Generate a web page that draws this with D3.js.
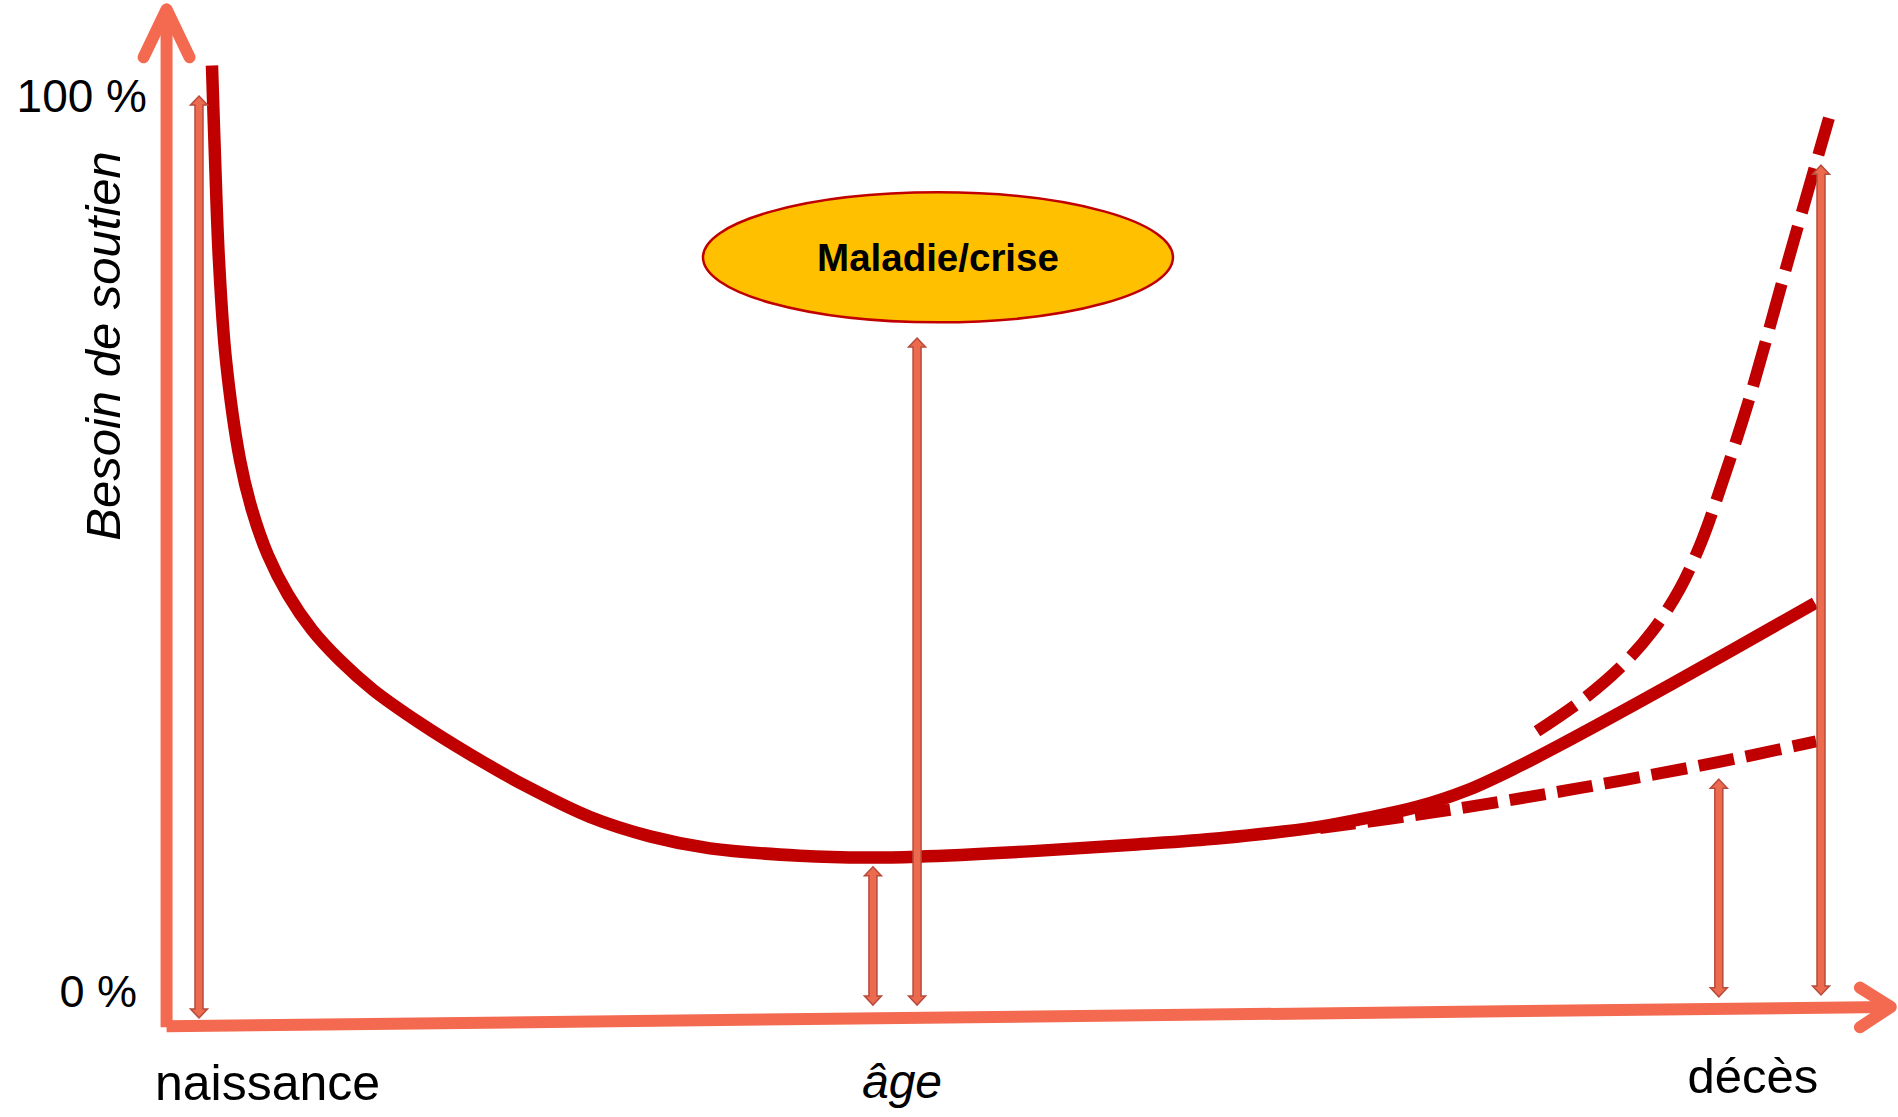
<!DOCTYPE html>
<html>
<head>
<meta charset="utf-8">
<script src="https://cdn.jsdelivr.net/npm/d3@7"></script>
<style>
  html, body { margin: 0; padding: 0; background: #fff; }
  svg { display: block; font-family: Arial, "Liberation Sans", sans-serif; }
</style>
</head>
<body>
<div id="container"></div>
<script>
// age (0 = naissance, 100 = décès) and besoin de soutien in %
const mainAge  = [0.8, 0.99, 1.23, 1.66, 2.53, 3.27, 4.25, 5.49, 6.97, 8.69, 10.73, 13.62, 16.71, 20.22, 24.11, 27.81, 31.5, 37.05, 41.18, 44.27, 51.42, 57.58, 62.95, 68.93, 72.01, 75.09, 78.18, 81.26, 83.91, 90.88, 99.63];
const mainNeed = [103.3, 93.1, 82.2, 71.4, 60.5, 55.1, 50.2, 45.9, 42.1, 38.8, 35.6, 32.0, 28.6, 25.1, 21.8, 19.7, 18.4, 17.6, 17.4, 17.5, 18.1, 18.8, 19.5, 20.7, 21.7, 22.9, 24.7, 27.2, 29.6, 36.3, 45.0];

const highAge  = [82.49, 85.14, 87.61, 89.58, 91.31, 92.66, 93.77, 95.62, 98.03, 100.49];
const highNeed = [31.1, 34.3, 38.0, 41.9, 46.6, 51.8, 57.3, 67.4, 82.5, 97.6];

const lowAge  = [69.1, 76.1, 85.0, 93.8, 99.7];
const lowNeed = [20.6, 22.3, 24.9, 27.8, 30.0];

// double arrows: age, from, to
const arrowAge  = [0, 41.55, 44.27, 93.7, 100];
const arrowFrom = [0, 1.4, 1.4, 2.3, 2.5];
const arrowTo   = [100, 16.4, 73.75, 25.9, 92.5];

const yTickLabels = ["0 %", "100 %"];
const xLabels = ["naissance", "âge", "décès"];
const yTitle = "Besoin de soutien";
const bubbleText = "Maladie/crise";
const bubbleAge = 45.56, bubbleNeed = 82.5;

const width = 1898, height = 1117;
const x = d3.scaleLinear().domain([0, 100]).range([199, 1821]);
const y = d3.scaleLinear().domain([0, 100]).range([1018, 96]);

const axisColor = "#F36A50";
const curveColor = "#C00000";

const svg = d3.select("#container").append("svg")
  .attr("width", width).attr("height", height)
  .attr("viewBox", [0, 0, width, height]);

// axes
const axisG = svg.append("g")
  .attr("stroke", axisColor).attr("stroke-width", 12).attr("fill", "none");

axisG.append("line")
  .attr("x1", x(-2)).attr("y1", y(-1))
  .attr("x2", x(-2)).attr("y2", y(109));
axisG.append("path")
  .attr("stroke-linecap", "round").attr("stroke-linejoin", "round")
  .attr("d", `M${x(-2) - 23},${y(104.2)}L${x(-2)},${y(109.4)}L${x(-2) + 23},${y(104.2)}`);

axisG.append("line")
  .attr("x1", x(-2)).attr("y1", y(-0.9))
  .attr("x2", x(104.2)).attr("y2", y(1.2));
axisG.append("path")
  .attr("stroke-linecap", "round").attr("stroke-linejoin", "round")
  .attr("d", `M${x(102.4)},${y(3.3)}L${x(104.3)},${y(1.2)}L${x(102.4)},${y(-1)}`);

// line generator
const line = d3.line()
  .x(d => x(d[0])).y(d => y(d[1]))
  .curve(d3.curveCatmullRom.alpha(0.5));

svg.append("path")
  .datum(lowAge.map((a, i) => [a, lowNeed[i]]))
  .attr("fill", "none").attr("stroke", curveColor).attr("stroke-width", 12)
  .attr("stroke-dasharray", "36,12")
  .attr("d", line);

svg.append("path")
  .datum(highAge.map((a, i) => [a, highNeed[i]]))
  .attr("fill", "none").attr("stroke", curveColor).attr("stroke-width", 12)
  .attr("stroke-dasharray", "46,14")
  .attr("d", line);

svg.append("path")
  .datum(mainAge.map((a, i) => [a, mainNeed[i]]))
  .attr("fill", "none").attr("stroke", curveColor).attr("stroke-width", 12.5)
  .attr("d", line);

// double-headed arrows
function arrowPath(px, yb, yt) {
  const s = 4, h = 8.5, hl = 9;
  return `M${px},${yt}L${px + h},${yt + hl}L${px + s},${yt + hl}L${px + s},${yb - hl}L${px + h},${yb - hl}` +
    `L${px},${yb}L${px - h},${yb - hl}L${px - s},${yb - hl}L${px - s},${yt + hl}L${px - h},${yt + hl}Z`;
}

svg.append("g").selectAll("path")
  .data(arrowAge.map((a, i) => ({age: a, from: arrowFrom[i], to: arrowTo[i]})))
  .join("path")
  .attr("fill", "#EC6A4E")
  .attr("stroke", "#B74B3C")
  .attr("stroke-width", 1.5)
  .attr("d", d => arrowPath(x(d.age), y(d.from), y(d.to)));

// bubble
svg.append("ellipse")
  .attr("cx", x(bubbleAge)).attr("cy", y(bubbleNeed))
  .attr("rx", 235).attr("ry", 65)
  .attr("fill", "#FFC000").attr("stroke", curveColor).attr("stroke-width", 2.5);

svg.append("text")
  .attr("x", x(bubbleAge)).attr("y", y(bubbleNeed) + 14)
  .attr("text-anchor", "middle")
  .attr("font-size", 38.5).attr("font-weight", "bold")
  .text(bubbleText);

// tick labels
svg.append("text")
  .attr("x", 147).attr("y", y(100) + 16)
  .attr("text-anchor", "end").attr("font-size", 46)
  .text(yTickLabels[1]);
svg.append("text")
  .attr("x", 137).attr("y", y(0) - 11)
  .attr("text-anchor", "end").attr("font-size", 45)
  .text(yTickLabels[0]);

// x labels
svg.append("text")
  .attr("x", 155).attr("y", 1100)
  .attr("font-size", 50)
  .text(xLabels[0]);
svg.append("text")
  .attr("x", 902).attr("y", 1098)
  .attr("text-anchor", "middle").attr("font-size", 48).attr("font-style", "italic")
  .text(xLabels[1]);
svg.append("text")
  .attr("x", 1753).attr("y", 1093)
  .attr("text-anchor", "middle").attr("font-size", 49)
  .text(xLabels[2]);

// y title
svg.append("text")
  .attr("transform", "translate(120,346) rotate(-90)")
  .attr("text-anchor", "middle").attr("font-size", 49).attr("font-style", "italic")
  .text(yTitle);
</script>
</body>
</html>
